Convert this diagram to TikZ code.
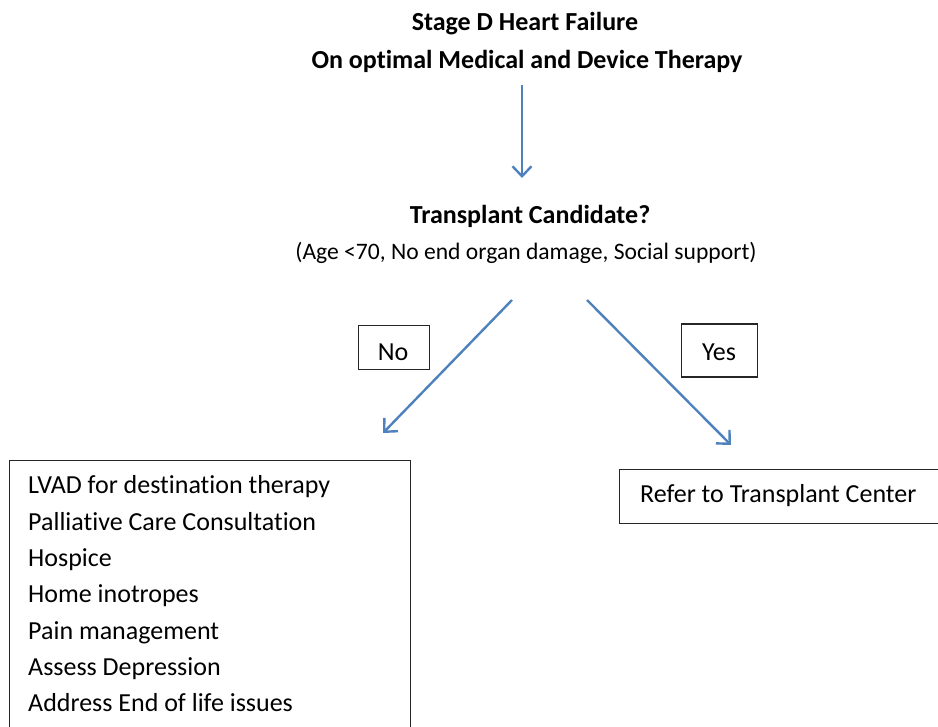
\documentclass[tikz,border=0pt]{standalone}
\usepackage{fontspec}
\setmainfont{Carlito}[Ligatures=NoCommon]
\usetikzlibrary{arrows.meta}
\definecolor{arrowblue}{HTML}{4F81BD}
\definecolor{boxgray}{HTML}{262626}
\tikzset{
  txt/.style={inner sep=0pt, font=\fontsize{26pt}{30pt}\selectfont, text=black},
  btxt/.style={txt, font=\fontsize{26pt}{30pt}\selectfont\bfseries},
  smalltxt/.style={txt, font=\fontsize{23.6pt}{28pt}\selectfont},
  flowarrow/.style={draw=arrowblue, line width=2.4pt, -{Straight Barb[length=10pt,width=19pt,line width=2.4pt]}},
  framebox/.style={draw=boxgray, line width=1.4pt, fill=none, inner sep=0pt}
}
\begin{document}
\begin{tikzpicture}[x=1pt,y=-1pt]
\useasboundingbox (0,0) rectangle (938,727);
\clip (0,0) rectangle (938,727);
% titles
\node[btxt, anchor=base] (t1) at (525,30.5) {Stage D Heart Failure};
\node[btxt, anchor=base] (t2) at (527,68.5) {On optimal Medical and Device Therapy};
\node[btxt, anchor=base] (cand) at (530,223.5) {Transplant Candidate?};
\node[smalltxt, anchor=base] (crit) at (526,259.5) {(Age <70, No end organ damage, Social support)};
% arrow endpoints
\coordinate (a1s) at (522,85);
\coordinate (a1e) at (522,178);
\coordinate (als) at (512,300);
\coordinate (ale) at (383,433);
\coordinate (ars) at (587,300);
\coordinate (are) at (731,445);
\draw[flowarrow] (a1s) -- (a1e);
\draw[flowarrow] (als) -- (ale);
\draw[flowarrow] (ars) -- (are);
% labels
\node[framebox, minimum width=71pt, minimum height=44pt, anchor=north west] (nobox) at (357.5,325) {};
\node[txt, anchor=base] (no) at (393,360.5) {No};
\node[framebox, minimum width=76pt, minimum height=53pt, anchor=north west] (yesbox) at (681,323.5) {};
\node[txt, anchor=base] (yes) at (719,360.5) {Yes};
% left list box
\node[framebox, minimum width=401pt, minimum height=290pt, anchor=north west] (listbox) at (9,460) {};
\node[txt, anchor=base west] (l1) at (28,493.5) {LVAD for destination therapy};
\node[txt, anchor=base west] (l2) at (28,530) {Palliative Care Consultation};
\node[txt, anchor=base west] (l3) at (28,566) {Hospice};
\node[txt, anchor=base west] (l4) at (28,602.5) {Home inotropes};
\node[txt, anchor=base west] (l5) at (28,639) {Pain management};
\node[txt, anchor=base west] (l6) at (28,675) {Assess Depression};
\node[txt, anchor=base west] (l7) at (28,711.5) {Address End of life issues};
% right box
\node[framebox, minimum width=340pt, minimum height=54pt, anchor=north west] (refbox) at (619,469) {};
\node[txt, anchor=base west] (ref) at (640,502.5) {Refer to Transplant Center};
\end{tikzpicture}
\end{document}
